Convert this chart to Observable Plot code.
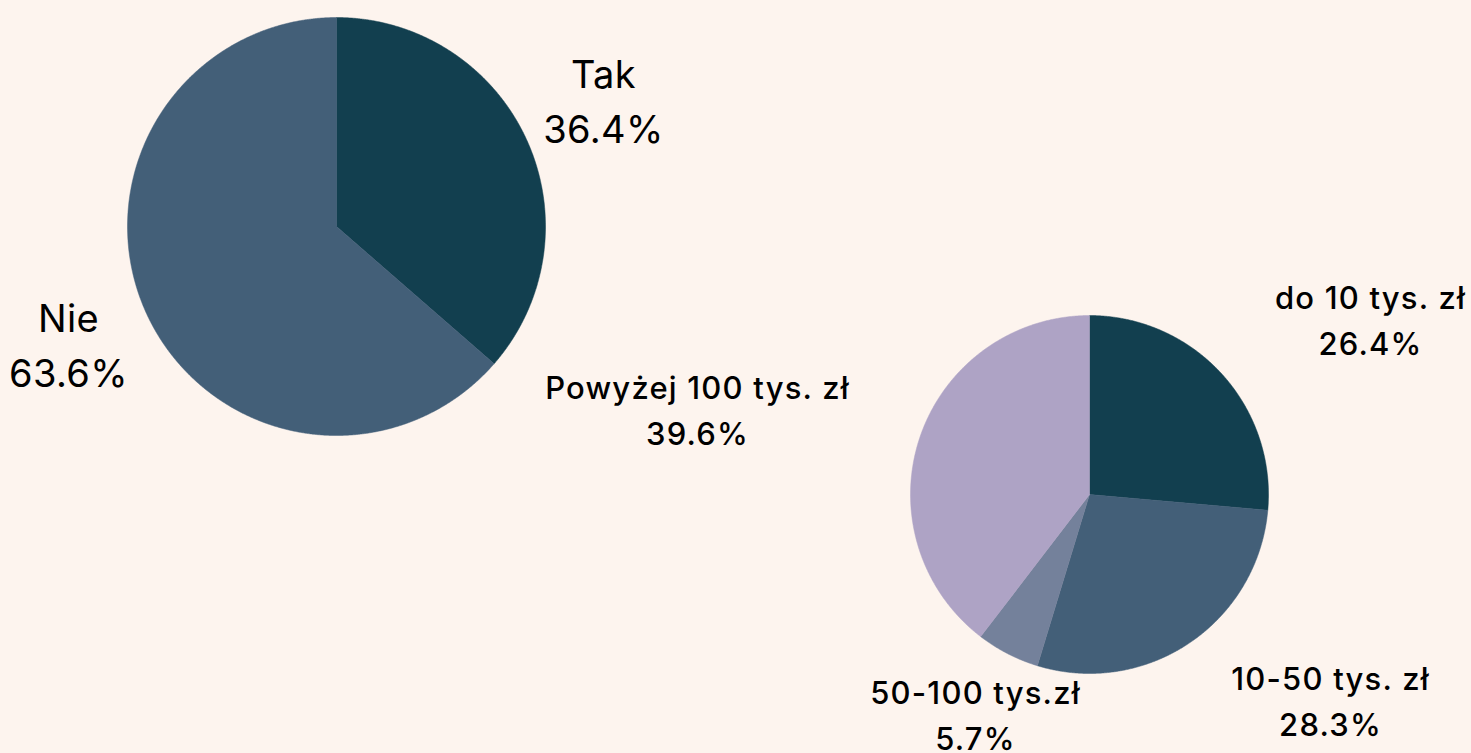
<!DOCTYPE html>
<html><head><meta charset="utf-8">
<script src="https://cdn.jsdelivr.net/npm/d3@7"></script>
<script src="https://cdn.jsdelivr.net/npm/@observablehq/plot@0.6"></script>
<style>
html,body{margin:0;padding:0;background:#fdf4ee;}
</style></head>
<body><div id="chart"></div>
<script>
// Data
const pie1Categories = ["Tak", "Nie"];
const pie1Values = [36.4, 63.6];
const pie2Categories = ["do 10 tys. zł", "10-50 tys. zł", "50-100 tys.zł", "Powyżej 100 tys. zł"];
const pie2Values = [26.4, 28.3, 5.7, 39.6];

// Styles / layout
const colors1 = ["#123f4f", "#435f78"];
const colors2 = ["#123f4f", "#435f78", "#74819b", "#aea3c5"];
const W = 1471, H = 753;
const layout1 = {cx: 336, cy: 226, r: 209, fontSize: 38, lineGap: 55, letterSpacing: "0.4px",
  labels: [[603, 75], [68, 319]]};
const layout2 = {cx: 1089, cy: 494, r: 179, fontSize: 31, lineGap: 46, letterSpacing: "1.2px",
  labels: [[1370, 299], [1330, 680], [975, 694], [697, 389]]};

function slices(cats, vals, colors, L, id) {
  const arcs = d3.pie().sort(null)(vals);
  const pts = [];
  arcs.forEach((a, i) => {
    const key = id + ":" + cats[i];
    pts.push({key, color: colors[i], x: L.cx, y: L.cy});
    const n = Math.max(2, Math.ceil((a.endAngle - a.startAngle) / 0.005));
    for (let k = 0; k <= n; k++) {
      const t = a.startAngle + (a.endAngle - a.startAngle) * k / n;
      pts.push({key, color: colors[i], x: L.cx + L.r * Math.sin(t), y: L.cy - L.r * Math.cos(t)});
    }
    pts.push({key, color: colors[i], x: L.cx, y: L.cy});
  });
  return pts;
}
function labels(cats, vals, L) {
  const out = [];
  cats.forEach((c, i) => {
    out.push({x: L.labels[i][0], y: L.labels[i][1], text: c});
    out.push({x: L.labels[i][0], y: L.labels[i][1] + L.lineGap, text: vals[i].toFixed(1) + "%"});
  });
  return out;
}

const pts = slices(pie1Categories, pie1Values, colors1, layout1, "a")
  .concat(slices(pie2Categories, pie2Values, colors2, layout2, "b"));
const lab1 = labels(pie1Categories, pie1Values, layout1);
const lab2 = labels(pie2Categories, pie2Values, layout2);

const chart = Plot.plot({
  width: W, height: H,
  margin: 0,
  style: {background: "#fdf4ee", fontFamily: "Inter, 'Open Sans', sans-serif"},
  x: {domain: [0, W], range: [0, W], axis: null},
  y: {domain: [0, H], range: [0, H], axis: null},
  marks: [
    Plot.line(pts, {x: "x", y: "y", z: "key", fill: "color", stroke: "color", strokeWidth: 0.5, curve: "linear"}),
    Plot.text(lab1, {x: "x", y: "y", text: "text", fontSize: layout1.fontSize, fill: "#000", textAnchor: "middle",
      fontWeight: 400, style: {letterSpacing: layout1.letterSpacing}}),
    Plot.text(lab2, {x: "x", y: "y", text: "text", fontSize: layout2.fontSize, fill: "#000", textAnchor: "middle",
      fontWeight: 500})
  ]
});
chart.querySelectorAll("g[aria-label='text']").forEach((g, i) => {
  g.setAttribute("letter-spacing", i === 0 ? layout1.letterSpacing : layout2.letterSpacing);
});
document.getElementById("chart").appendChild(chart);
</script></body></html>
